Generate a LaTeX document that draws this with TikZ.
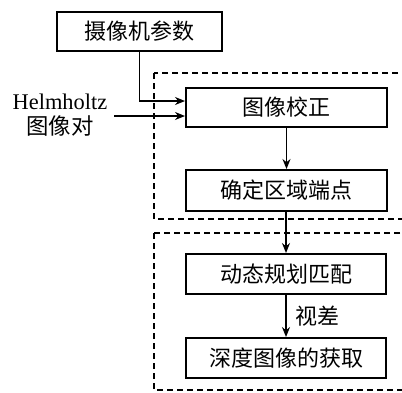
\documentclass[tikz,border=0pt]{standalone}
\usepackage{fontspec}
\setmainfont{Liberation Serif}
\newfontfamily\cjk{Noto Sans CJK SC}
\usetikzlibrary{arrows.meta}
\begin{document}
\begin{tikzpicture}[x=0.5pt,y=-0.5pt,
  box/.style={draw,line width=1pt,inner sep=0pt,font=\cjk\fontsize{11}{13}\selectfont},
  arr/.style={-{Stealth[length=5pt,width=4pt]},line width=0.8pt},
  region/.style={dash pattern=on 3pt off 2pt,line width=0.9pt}]
\useasboundingbox (0,0) rectangle (402,392);
\fill[white] (0,0) rectangle (402,392);
\clip (0,0) rectangle (402,392);
\draw[region] (154,73) rectangle (420,219);
\draw[region] (154,233) rectangle (420,390);
\node[box,minimum width=82.5pt,minimum height=19.5pt] (cam) at (139.5,31.5) {摄像机参数};
\node[box,minimum width=100.5pt,minimum height=19.5pt] (rect) at (286.5,107.5) {图像校正};
\node[box,minimum width=100.5pt,minimum height=20.5pt] (endp) at (286.5,190.5) {确定区域端点};
\node[box,minimum width=100pt,minimum height=20pt] (dp) at (286,274) {动态规划匹配};
\node[box,minimum width=100pt,minimum height=20pt] (depth) at (286,358) {深度图像的获取};
\node[align=center,font=\fontsize{11.2}{12.5}\selectfont,inner sep=0pt] (hh) at (60,115) {Helmholtz\\{\cjk 图像对}};
\coordinate (hin) at (114,116);
\draw[arr] (cam.south) |- ([yshift=3.25pt]rect.west);
\draw[arr] (hin) -- (hin -| rect.west);
\draw[arr] (rect.south -| endp.north) -- (endp.north);
\draw[arr] (endp.south -| dp.north) -- (dp.north);
\draw[arr] (dp.south) -- node[right,font=\cjk\fontsize{11}{13}\selectfont,xshift=1pt] (disp) {视差} (depth.north);
\end{tikzpicture}
\end{document}
